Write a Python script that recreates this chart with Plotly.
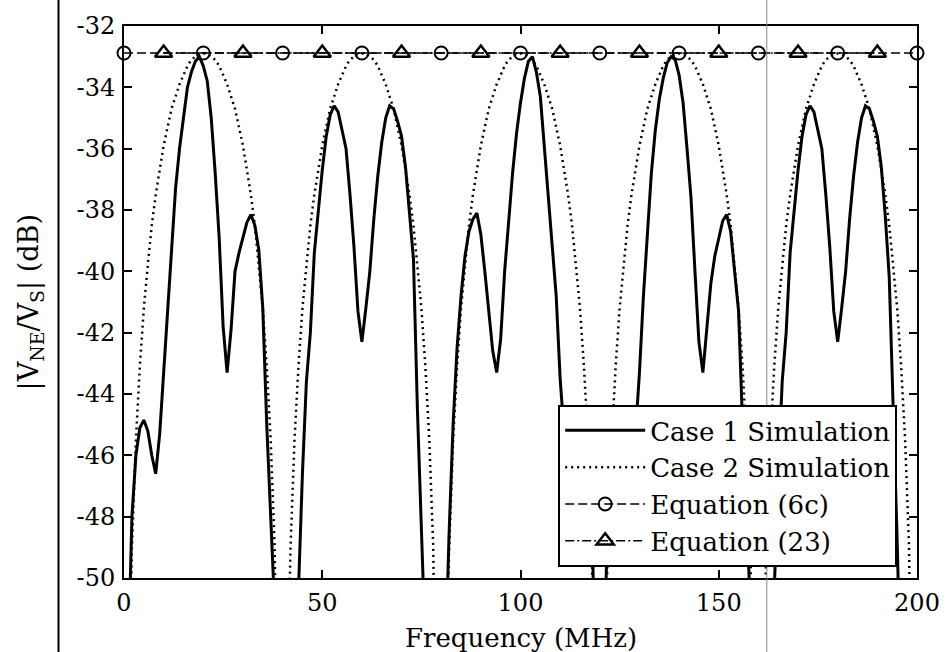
import plotly.graph_objects as go

# ---------------- data ----------------
freq = list(range(0, 201))  # MHz, 1 MHz steps

case1 = [
    # 0-40
    -60, -53, -48.0, -46.0, -45.1, -44.85, -45.2, -46.0, -46.6, -45.3,
    -43.3, -41.2, -39.1, -37.3, -36.0, -35.0, -34.0, -33.5, -33.15, -33.0,
    -33.3, -33.8, -35.0, -36.8, -38.9, -41.8, -43.3, -41.9, -40.0, -39.4,
    -38.9, -38.4, -38.15, -38.5, -39.3, -41.2, -45.0, -48.0, -50.5, -55,
    -60,
    # 41-80
    -60, -58, -54, -50.0, -46.6, -43.6, -42.0, -39.4, -38.0, -36.7,
    -35.6, -34.9, -34.6, -34.8, -35.4, -36.0, -37.5, -39.2, -41.3, -42.3,
    -41.2, -40.0, -38.3, -36.9, -35.8, -35.0, -34.6, -34.7, -35.1, -35.6,
    -36.6, -38.0, -39.6, -44.5, -49.3, -55, -58, -60, -60, -60,
    # 81-120
    -53, -48.5, -45.0, -42.5, -40.8, -39.5, -38.7, -38.3, -38.1, -38.8,
    -40.0, -41.3, -42.6, -43.3, -42.2, -40.0, -38.4, -36.8, -35.5, -34.5,
    -33.7, -33.15, -33.0, -33.5, -34.3, -36.0, -37.5, -39.2, -40.8, -43.5,
    -45.3, -46.6, -46.0, -45.2, -44.85, -45.1, -46.0, -48.0, -53, -60,
    # 121-160
    -53, -48.0, -46.0, -45.1, -44.85, -45.2, -46.0, -46.6, -45.3, -43.3,
    -40.8, -38.7, -36.8, -35.4, -34.4, -33.7, -33.2, -33.0, -33.1, -33.6,
    -34.5, -36.0, -37.6, -40.0, -42.3, -43.3, -41.9, -40.4, -39.5, -38.9,
    -38.35, -38.15, -38.7, -40.0, -41.3, -45.0, -48.0, -50.5, -55, -60,
    # 161-200
    -60, -58, -54, -50.0, -46.6, -43.6, -42.0, -39.4, -38.0, -36.7,
    -35.6, -34.9, -34.6, -34.8, -35.4, -36.0, -37.5, -39.2, -41.3, -42.3,
    -41.2, -40.0, -38.3, -36.9, -35.8, -35.0, -34.6, -34.7, -35.1, -35.6,
    -36.6, -38.2, -40.2, -44.5, -48.8, -54, -58, -60, -60, -60,
]

case2 = [
    # 0-39
    -70, -55.0, -49.0, -45.5, -43.1, -41.2, -39.8, -38.5, -37.5, -36.7,
    -35.9, -35.3, -34.7, -34.3, -33.9, -33.6, -33.3, -33.1, -33.0, -32.9,
    -32.9, -32.9, -33.0, -33.1, -33.3, -33.6, -33.9, -34.3, -34.7, -35.3,
    -35.9, -36.7, -37.5, -38.5, -39.8, -41.2, -43.1, -45.5, -49.0, -55.0,
    # 40-79
    -70, -55.0, -49.0, -45.5, -43.1, -41.2, -39.8, -38.5, -37.5, -36.7,
    -35.9, -35.3, -34.7, -34.3, -33.9, -33.6, -33.3, -33.1, -33.0, -32.9,
    -32.9, -32.9, -33.0, -33.1, -33.3, -33.6, -33.9, -34.3, -34.7, -35.3,
    -35.9, -36.7, -37.5, -38.5, -39.8, -41.2, -43.1, -45.5, -49.0, -55.0,
    # 80-119
    -70, -55.0, -49.0, -45.5, -43.1, -41.2, -39.8, -38.5, -37.5, -36.7,
    -35.9, -35.3, -34.7, -34.3, -33.9, -33.6, -33.3, -33.1, -33.0, -32.9,
    -32.9, -32.9, -33.0, -33.1, -33.3, -33.6, -33.9, -34.3, -34.7, -35.3,
    -35.9, -36.7, -37.5, -38.5, -39.8, -41.2, -43.1, -45.5, -49.0, -55.0,
    # 120-159
    -70, -55.0, -49.0, -45.5, -43.1, -41.2, -39.8, -38.5, -37.5, -36.7,
    -35.9, -35.3, -34.7, -34.3, -33.9, -33.6, -33.3, -33.1, -33.0, -32.9,
    -32.9, -32.9, -33.0, -33.1, -33.3, -33.6, -33.9, -34.3, -34.7, -35.3,
    -35.9, -36.7, -37.5, -38.5, -39.8, -41.2, -43.1, -45.5, -49.0, -55.0,
    # 160-200
    -70, -55.0, -49.0, -45.5, -43.1, -41.2, -39.8, -38.5, -37.5, -36.7,
    -35.9, -35.3, -34.7, -34.3, -33.9, -33.6, -33.3, -33.1, -33.0, -32.9,
    -32.9, -32.9, -33.0, -33.1, -33.3, -33.6, -33.9, -34.3, -34.7, -35.3,
    -35.9, -36.7, -37.5, -38.5, -39.8, -41.2, -43.1, -45.5, -49.0, -55.0,
    -70,
]

eq6c_freq = [0, 20, 40, 60, 80, 100, 120, 140, 160, 180, 200]
eq6c_db = [-32.88, -32.88, -32.88, -32.88, -32.88, -32.88, -32.88, -32.88, -32.88, -32.88, -32.88]

eq23_freq = [10, 30, 50, 70, 90, 110, 130, 150, 170, 190]
eq23_db = [-32.88, -32.88, -32.88, -32.88, -32.88, -32.88, -32.88, -32.88, -32.88, -32.88]

series_names = ["Case 1 Simulation", "Case 2 Simulation", "Equation (6c)", "Equation (23)"]

x_tickvals = [0, 50, 100, 150, 200]
x_ticktext = ["0", "50", "100", "150", "200"]
y_tickvals = [-50, -48, -46, -44, -42, -40, -38, -36, -34, -32]
y_ticktext = ["-50", "-48", "-46", "-44", "-42", "-40", "-38", "-36", "-34", "-32"]

# ---------------- figure ----------------
FONT = "DejaVu Serif"
fig = go.Figure()

fig.add_trace(go.Scatter(
    x=freq, y=case1, mode="lines", name=series_names[0], legendgroup="a",
    line=dict(color="black", width=3, dash="solid"),
))
fig.add_trace(go.Scatter(
    x=freq, y=case2, mode="lines", name=series_names[1], legendgroup="b",
    line=dict(color="black", width=2.5, dash="2px,4px"),
))
fig.add_trace(go.Scatter(
    x=eq6c_freq, y=eq6c_db, mode="lines+markers", name=series_names[2], legendgroup="c",
    line=dict(color="black", width=1.5, dash="9px,4px"),
    marker=dict(symbol="circle-open", size=13, color="black", line=dict(width=2, color="black")),
    cliponaxis=False,
))
fig.add_trace(go.Scatter(
    x=eq23_freq, y=eq23_db, mode="lines+markers", name=series_names[3], legendgroup="d",
    line=dict(color="black", width=1.5, dash="9px,3px,2px,3px"),
    marker=dict(symbol="triangle-up-open", size=15, color="black", line=dict(width=2.5, color="black")),
    cliponaxis=False,
))

axis_common = dict(
    showgrid=False, zeroline=False, showline=True, linecolor="black", linewidth=2,
    mirror="ticks", ticks="inside", ticklen=8, tickwidth=1.5, tickcolor="black",
    tickfont=dict(family=FONT, size=24, color="black"),
)

fig.update_xaxes(range=[0, 200], tickmode="array", tickvals=x_tickvals, ticktext=x_ticktext,
                 ticklabelstandoff=2, **axis_common)
fig.update_yaxes(range=[-50, -32], tickmode="array", tickvals=y_tickvals, ticktext=y_ticktext,
                 ticklabelstandoff=2, **axis_common)

fig.update_layout(
    width=952, height=652,
    margin=dict(l=124, r=29, t=23, b=74),
    paper_bgcolor="white", plot_bgcolor="white",
    font=dict(family=FONT, size=24, color="black"),
    showlegend=True,
    legend=dict(
        x=0.975, xanchor="right", y=0.02, yanchor="bottom",
        bgcolor="white", bordercolor="black", borderwidth=2,
        font=dict(family=FONT, size=26, color="black"),
        itemwidth=80, tracegroupgap=4, traceorder="normal",
    ),
    annotations=[
        dict(text="Frequency (MHz)", xref="paper", yref="paper", x=0.5, y=-0.108,
             xanchor="center", yanchor="middle", showarrow=False,
             font=dict(family=FONT, size=26, color="black")),
        dict(text="|V<sub>NE</sub>/V<sub>S</sub>| (dB)", xref="paper", yref="paper",
             x=-0.118, y=0.5, xanchor="center", yanchor="middle", textangle=-90,
             showarrow=False, font=dict(family=FONT, size=27, color="black")),
    ],
    shapes=[
        dict(type="line", xref="paper", yref="paper", x0=-0.0826, x1=-0.0826, y0=-0.14, y1=1.05,
             line=dict(color="black", width=2)),
        dict(type="line", xref="paper", yref="paper", x0=0.8106, x1=0.8106, y0=-0.14, y1=1.05,
             line=dict(color="#888888", width=1), layer="above"),
    ],
)

fig.write_html("out.html")
